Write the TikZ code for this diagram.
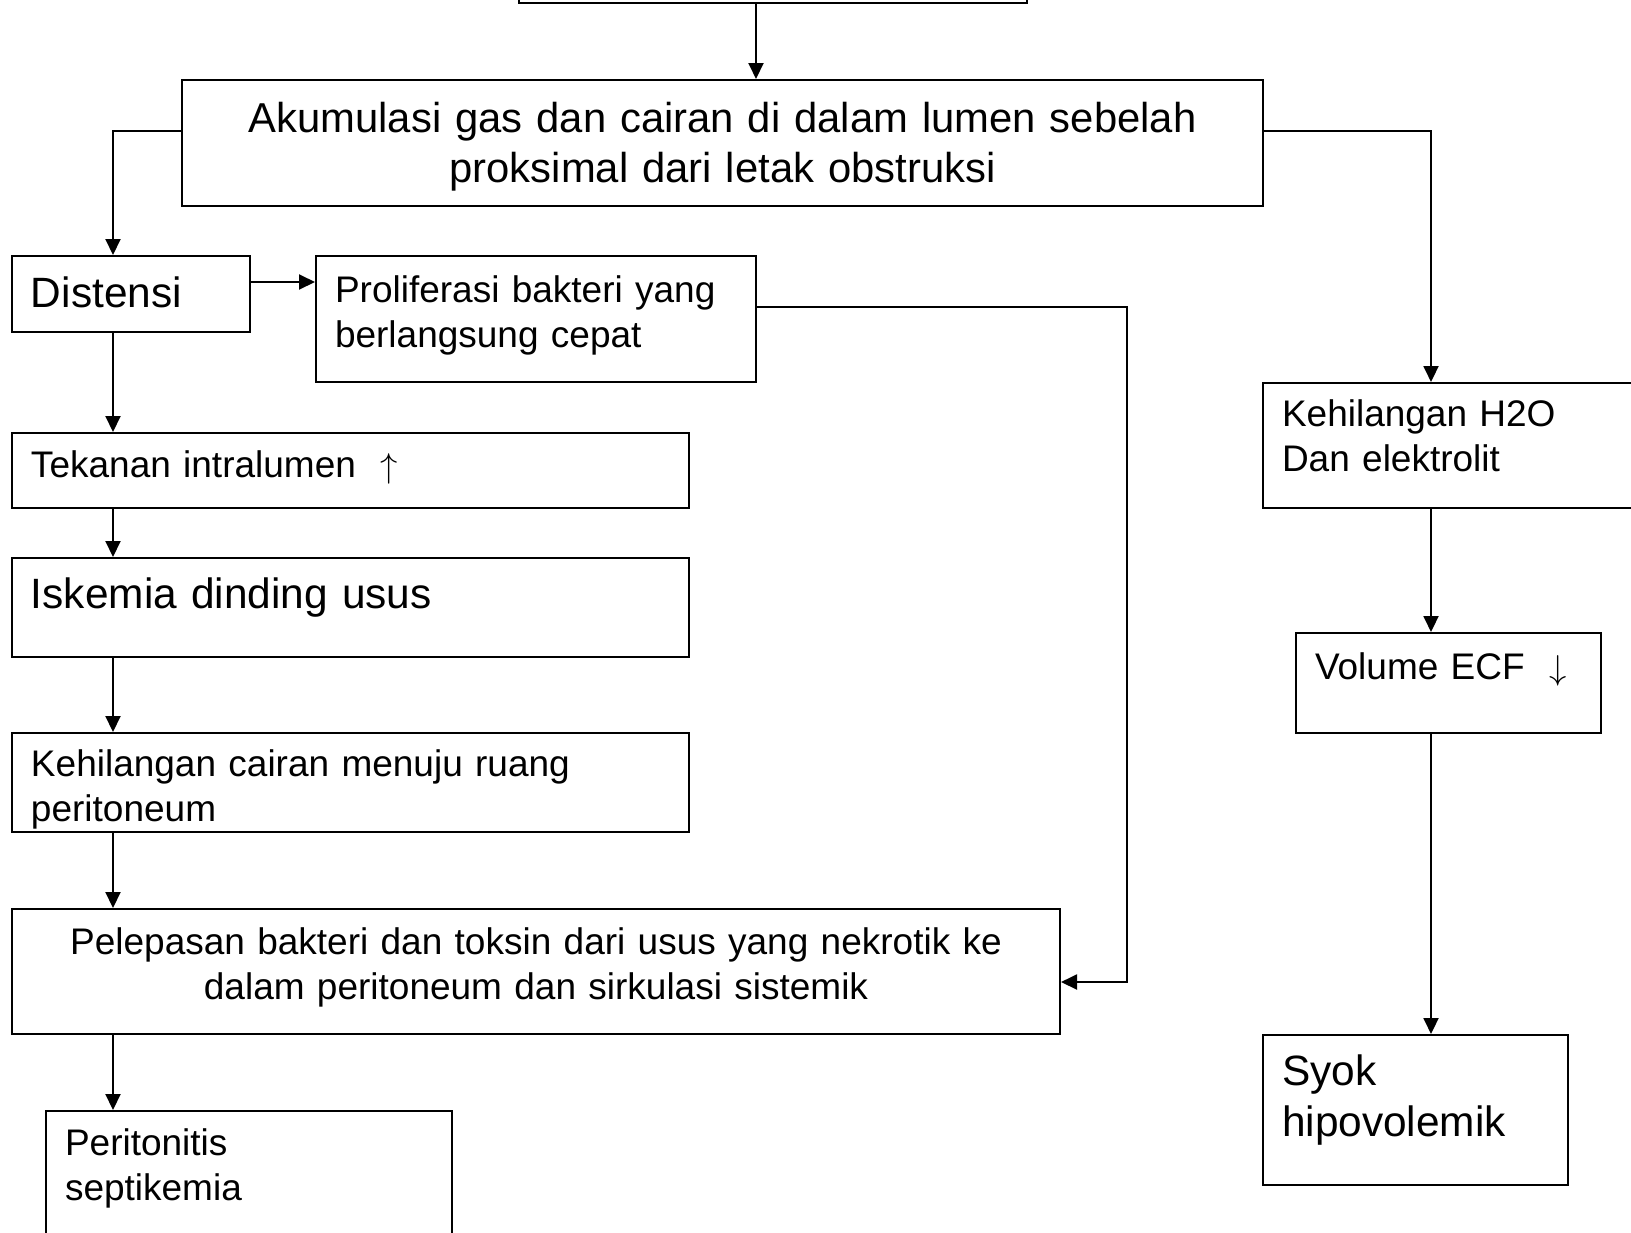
\documentclass[tikz,border=0pt]{standalone}
\usepackage{fontspec}
\setmainfont{Liberation Sans}
\usepackage{tikz}
\usetikzlibrary{arrows.meta, positioning}
\newcommand{\fsmall}{\fontsize{18.5pt}{22.5pt}\selectfont}
\newcommand{\fbig}{\fontsize{21.2pt}{25.5pt}\selectfont}

\begin{document}
\begin{tikzpicture}[x=0.5pt, y=-0.5pt,
    box/.style={draw, line width=1pt, anchor=north west, inner xsep=9.5pt, inner ysep=0pt, align=left, font=\fsmall},
    big/.style={font=\fbig},
    arr/.style={-{Triangle[length=8pt, width=7.5pt]}, line width=1pt}
]
    \useasboundingbox (0,0) rectangle (1631,1232);
    \coordinate (lx) at (113,0);
    \coordinate (rx) at (1431,0);
    \coordinate (bend) at (1127,982);

    \node[box, minimum width=254pt, minimum height=30pt, anchor=south west, inner sep=0pt] (top) at (518,4) {};
    \node[box, font=\fontsize{20.9pt}{25pt}\selectfont, align=center, text width=521.5pt, text height=26pt, text depth=37pt] (akum) at (181,79)
        {Akumulasi gas dan cairan di dalam lumen sebelah\\proksimal dari letak obstruksi};

    % left branch
    \node[box, big, text width=100pt, text height=25.5pt, text depth=12.5pt] (dist) at (11,255) {Distensi};
    \node[box, text width=201pt, text height=23pt, text depth=40pt] (prol) at (315,255) {Proliferasi bakteri yang\\berlangsung cepat};
    \node[box, text width=319.5pt, text height=22pt, text depth=15.5pt] (tek) at (11,432) {Tekanan intralumen\ \ $\uparrow$};
    \node[box, big, text width=319.5pt, text height=25pt, text depth=24.5pt] (isk) at (11,557) {Iskemia dinding usus};
    \node[box, text width=319.5pt, text height=21.5pt, text depth=28pt] (kcair) at (11,732) {Kehilangan cairan menuju ruang\\peritoneum};
    \node[box, align=center, text width=505pt, text height=22.5pt, text depth=40pt] (pel) at (11,908)
        {Pelepasan bakteri dan toksin dari usus yang nekrotik ke\\dalam peritoneum dan sirkulasi sistemik};
    \node[box, text width=184pt, text height=22pt, text depth=60pt] (perit) at (45,1110) {Peritonitis\\septikemia};

    % right branch
    \node[box, text width=191pt, text height=21.5pt, text depth=41pt] (h2o) at (1262,382) {Kehilangan H2O\\Dan elektrolit};
    \node[box, text width=133.5pt, text height=23pt, text depth=27pt] (vol) at (1295,632) {Volume ECF\ \ $\downarrow$};
    \node[box, big, text width=133.5pt, text height=25pt, text depth=50pt] (syok) at (1262,1034) {Syok\\hipovolemik};

    \draw[arr] ([xshift=119pt]top.south west) -- ([xshift=119pt]top.south west |- akum.north);
    \draw[arr] ([yshift=6pt]akum.west) -| (lx |- dist.north);
    \draw[arr] ([yshift=6pt]akum.east) -| (rx |- h2o.north);
    \draw[arr] ([yshift=6pt]dist.east) -- ([yshift=6pt]dist.east -| prol.west);
    \draw[arr] ([yshift=6pt]prol.east) -| (bend) -- (bend -| pel.east);
    \draw[arr] (lx |- dist.south) -- (lx |- tek.north);
    \draw[arr] (lx |- tek.south) -- (lx |- isk.north);
    \draw[arr] (lx |- isk.south) -- (lx |- kcair.north);
    \draw[arr] (lx |- kcair.south) -- (lx |- pel.north);
    \draw[arr] (lx |- pel.south) -- (lx |- perit.north);
    \draw[arr] (rx |- h2o.south) -- (rx |- vol.north);
    \draw[arr] (rx |- vol.south) -- (rx |- syok.north);
\end{tikzpicture}
\end{document}
